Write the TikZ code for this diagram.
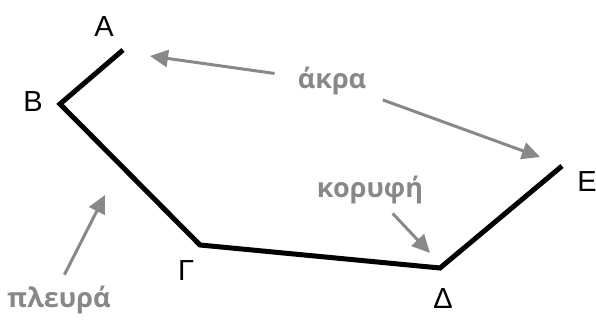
\documentclass[tikz,border=0pt]{standalone}
\usepackage{fontspec}
\setmainfont{Liberation Sans}
\newfontfamily\termfont{Open Sans}
\usetikzlibrary{arrows.meta}
\definecolor{termgray}{HTML}{888888}

\begin{document}
\begin{tikzpicture}[x=1pt, y=-1pt,
  side/.style={draw=black, line width=5pt, line join=miter},
  vertex/.style={font=\fontsize{29}{34}\selectfont, inner sep=0pt, anchor=base},
  term/.style={font=\termfont\bfseries\fontsize{27}{32}\selectfont,
    text=termgray, inner sep=0pt, anchor=base},
  pointer/.style={-{Triangle[length=18pt,width=17pt]},
    draw=termgray, line width=3pt}
]
\useasboundingbox (0,0) rectangle (596,320);
% vertices of the polygonal line
\coordinate (a) at (123,50);
\coordinate (b) at (60,104);
\coordinate (c) at (200,245);
\coordinate (d) at (440,268);
\coordinate (e) at (562,166);
\draw[side] (a) -- (b) -- (c) -- (d) -- (e);
% vertex letters
\node[vertex] (la) at (104,37) {Α};
\node[vertex] (lb) at (33,112) {Β};
\node[vertex] (lc) at (186,280) {Γ};
\node[vertex] (ld) at (443,308) {Δ};
\node[vertex] (le) at (587,192) {Ε};
% terms
\node[term] (akra) at (332,89) {άκρα};
\node[term] (koryfi) at (370,197) {κορυφή};
\node[term] (pleura) at (59,307) {πλευρά};
\coordinate (tipa) at (150,56);
\coordinate (tipe) at (540,157);
\coordinate (tipd) at (430,253);
\coordinate (tipside) at (105,195);
\draw[pointer, shorten <=58pt] (akra.center) -- (tipa);
\draw[pointer, shorten <=54pt] (akra.center) -- (tipe);
\draw[pointer, shorten <=33pt] (koryfi.center) -- (tipd);
\draw[pointer, shorten <=12pt] (pleura.north) -- (tipside);
\end{tikzpicture}
\end{document}
